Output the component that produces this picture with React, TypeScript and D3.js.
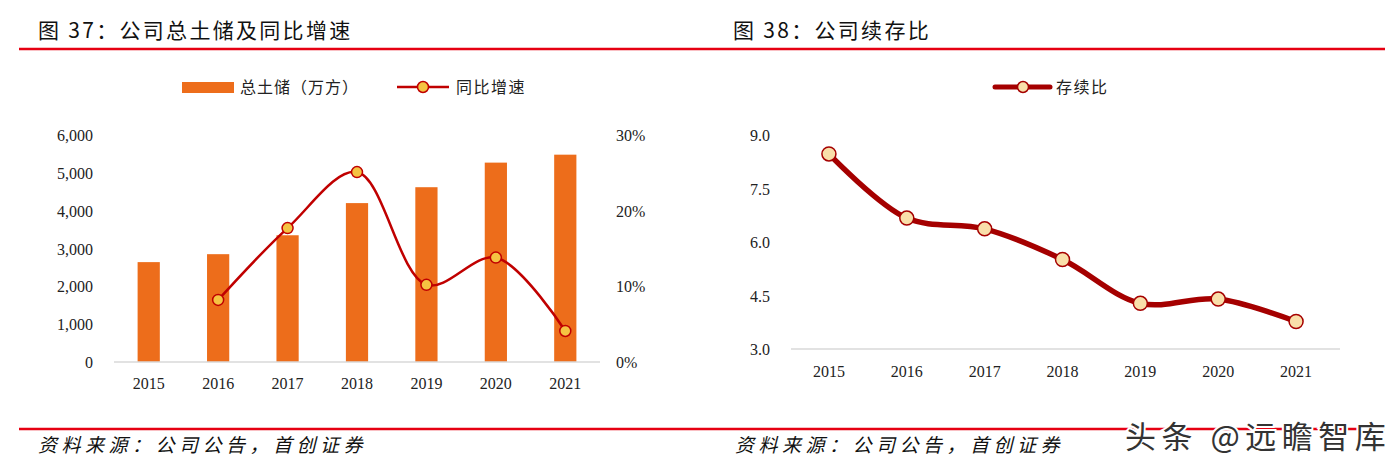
import React from "react";
import * as d3 from "d3";

const years = ["2015", "2016", "2017", "2018", "2019", "2020", "2021"];
const landBank = [2640, 2850, 3350, 4200, 4620, 5270, 5480];
const growthYears = ["2016", "2017", "2018", "2019", "2020", "2021"];
const growth = [8.2, 17.7, 25.1, 10.2, 13.8, 4.1];
const leftTicks = [0, 1000, 2000, 3000, 4000, 5000, 6000];
const rightTicks = [0, 10, 20, 30];
const ratio = [8.47, 6.67, 6.37, 5.51, 4.28, 4.4, 3.77];
const ratioTicks = [3.0, 4.5, 6.0, 7.5, 9.0];

const SERIF = "'Liberation Serif', 'Times New Roman', serif";
const CJK = "'Noto Sans CJK SC', sans-serif";

export default function App() {
  // Left chart scales
  const x1 = d3.scaleBand<string>().domain(years).range([114, 600]).paddingInner(0.68).paddingOuter(0.34);
  const y1 = d3.scaleLinear().domain([0, 6000]).range([362, 135]);
  const y1r = d3.scaleLinear().domain([0, 30]).range([362, 135]);
  const cx1 = (d: string) => (x1(d) as number) + x1.bandwidth() / 2;
  const line1 = d3
    .line<number>()
    .x((_, i) => cx1(growthYears[i]))
    .y((d) => y1r(d))
    .curve(d3.curveCatmullRom.alpha(0.5));

  // Right chart scales
  const x2 = d3.scalePoint<string>().domain(years).range([790, 1335]).padding(0.5);
  const y2 = d3.scaleLinear().domain([3, 9]).range([349, 135]);
  const line2 = d3
    .line<number>()
    .x((_, i) => x2(years[i]) as number)
    .y((d) => y2(d))
    .curve(d3.curveCatmullRom.alpha(0.5));

  return (
    <svg
      width={1394}
      height={468}
      style={{ position: "absolute", left: 0, top: 0, background: "#fff" }}
    >
      {/* titles */}
      <text x={38} y={38} fontFamily={CJK} fontSize={21} letterSpacing={2.3} fill="#111">
        图 37：公司总土储及同比增速
      </text>
      <text x={733} y={38} fontFamily={CJK} fontSize={21} letterSpacing={2.3} fill="#111">
        图 38：公司续存比
      </text>
      <line x1={19} x2={1385} y1={49} y2={49} stroke="#e60012" strokeWidth={2.5} />
      <line x1={19} x2={1385} y1={429} y2={429} stroke="#e60012" strokeWidth={2.5} />

      {/* left legend */}
      <rect x={182} y={82} width={52} height={11} fill="#ed6d1b" />
      <text x={240} y={93} fontFamily={CJK} fontSize={16} letterSpacing={1} fill="#222">
        总土储（万方）
      </text>
      <line x1={397} x2={449} y1={87} y2={87} stroke="#c00000" strokeWidth={2.5} />
      <circle cx={423} cy={87} r={5.5} fill="#f5c342" stroke="#c00000" strokeWidth={1.5} />
      <text x={456} y={93} fontFamily={CJK} fontSize={16} letterSpacing={1.5} fill="#222">
        同比增速
      </text>

      {/* left axes */}
      {leftTicks.map((t) => (
        <text key={t} x={93} y={y1(t) + 6} textAnchor="end" fontFamily={SERIF} fontSize={16} fill="#222">
          {d3.format(",")(t)}
        </text>
      ))}
      {rightTicks.map((t) => (
        <text key={t} x={616} y={y1r(t) + 6} textAnchor="start" fontFamily={SERIF} fontSize={16} fill="#222">
          {t}%
        </text>
      ))}
      {landBank.map((v, i) => (
        <rect
          key={years[i]}
          x={x1(years[i])}
          y={y1(v)}
          width={x1.bandwidth()}
          height={y1(0) - y1(v)}
          fill="#ed6d1b"
        />
      ))}
      <line x1={114} x2={600} y1={362} y2={362} stroke="#d9d9d9" strokeWidth={1.5} />
      {years.map((yr) => (
        <text key={yr} x={cx1(yr)} y={389} textAnchor="middle" fontFamily={SERIF} fontSize={16} fill="#222">
          {yr}
        </text>
      ))}
      <path d={line1(growth) || ""} fill="none" stroke="#c00000" strokeWidth={2.5} />
      {growth.map((g, i) => (
        <circle key={i} cx={cx1(growthYears[i])} cy={y1r(g)} r={5.5} fill="#f5c342" stroke="#c00000" strokeWidth={1.5} />
      ))}

      {/* right legend */}
      <line x1={995} x2={1050} y1={87} y2={87} stroke="#a50000" strokeWidth={5} strokeLinecap="round" />
      <circle cx={1023} cy={87} r={5.5} fill="#f9dfaa" stroke="#a50000" strokeWidth={1.5} />
      <text x={1056} y={93} fontFamily={CJK} fontSize={16} letterSpacing={1.5} fill="#222">
        存续比
      </text>

      {/* right axes */}
      {ratioTicks.map((t) => (
        <text key={t} x={770} y={y2(t) + 6} textAnchor="end" fontFamily={SERIF} fontSize={16} fill="#222">
          {d3.format(".1f")(t)}
        </text>
      ))}
      <line x1={791} x2={1340} y1={349} y2={349} stroke="#d9d9d9" strokeWidth={1.5} />
      {years.map((yr) => (
        <text key={yr} x={x2(yr)} y={377} textAnchor="middle" fontFamily={SERIF} fontSize={16} fill="#222">
          {yr}
        </text>
      ))}
      <path d={line2(ratio) || ""} fill="none" stroke="#a50000" strokeWidth={5.5} strokeLinejoin="round" />
      {ratio.map((v, i) => (
        <circle key={i} cx={x2(years[i])} cy={y2(v)} r={7} fill="#f9dfaa" stroke="#a50000" strokeWidth={1.5} />
      ))}

      {/* sources */}
      <text x={38} y={452} fontFamily={CJK} fontSize={19} letterSpacing={4.5} fontStyle="italic" fill="#111">
        资料来源：公司公告，首创证券
      </text>
      <text x={735} y={452} fontFamily={CJK} fontSize={19} letterSpacing={4.5} fontStyle="italic" fill="#111">
        资料来源：公司公告，首创证券
      </text>

      {/* watermark */}
      <text
        x={1125}
        y={448}
        fontFamily={CJK}
        fontSize={31}
        fill="#333"
        stroke="#fff"
        strokeWidth={4}
        paintOrder="stroke"
        letterSpacing={5.5}
      >
        头条 @远瞻智库
      </text>
    </svg>
  );
}
